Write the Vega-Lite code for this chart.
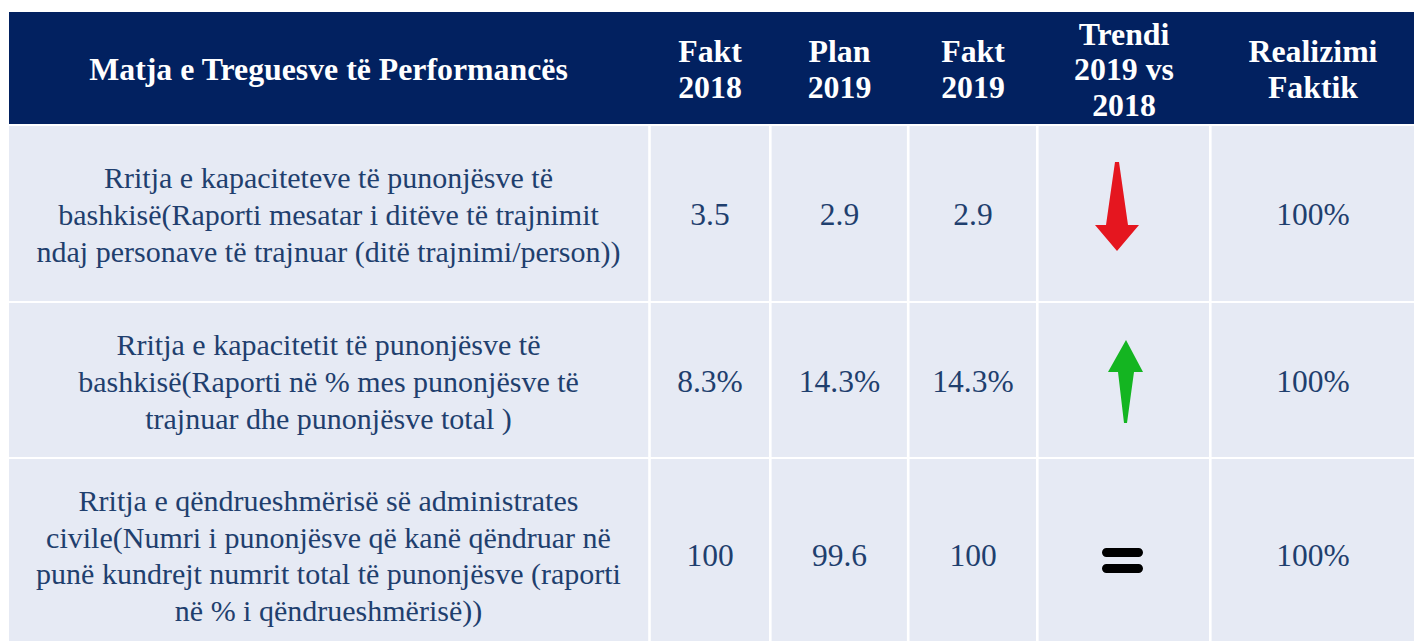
{
  "$schema": "https://vega.github.io/schema/vega-lite/v6.json",
  "width": 1405,
  "height": 629,
  "autosize": {"type": "none"},
  "padding": {"left": 9, "top": 12, "right": 0, "bottom": 0},
  "background": "white",
  "config": {"view": {"stroke": null, "fill": "#E6EAF4"}},
  "datasets": {
    "header": [
      {"col": 1, "label": "Matja e Treguesve të Performancës"},
      {"col": 2, "label": "Fakt\n2018"},
      {"col": 3, "label": "Plan\n2019"},
      {"col": 4, "label": "Fakt\n2019"},
      {"col": 5, "label": "Trendi\n2019 vs\n2018"},
      {"col": 6, "label": "Realizimi\nFaktik"}
    ],
    "cells": [
      {"row": 1, "col": 1, "text": "Rritja e kapaciteteve të punonjësve të\nbashkisë(Raporti mesatar i ditëve të trajnimit\nndaj personave të trajnuar (ditë trajnimi/person))"},
      {"row": 1, "col": 2, "text": "3.5"},
      {"row": 1, "col": 3, "text": "2.9"},
      {"row": 1, "col": 4, "text": "2.9"},
      {"row": 1, "col": 6, "text": "100%"},
      {"row": 2, "col": 1, "text": "Rritja e kapacitetit të punonjësve të\nbashkisë(Raporti në % mes punonjësve  të\ntrajnuar  dhe punonjësve total )"},
      {"row": 2, "col": 2, "text": "8.3%"},
      {"row": 2, "col": 3, "text": "14.3%"},
      {"row": 2, "col": 4, "text": "14.3%"},
      {"row": 2, "col": 6, "text": "100%"},
      {"row": 3, "col": 1, "text": "Rritja e qëndrueshmërisë së administrates\ncivile(Numri i punonjësve që kanë qëndruar në\npunë kundrejt numrit total të punonjësve (raporti\nnë % i qëndrueshmërisë))"},
      {"row": 3, "col": 2, "text": "100"},
      {"row": 3, "col": 3, "text": "99.6"},
      {"row": 3, "col": 4, "text": "100"},
      {"row": 3, "col": 6, "text": "100%"}
    ],
    "trends": [
      {"row": 1, "col": 5, "trend": "down"},
      {"row": 2, "col": 5, "trend": "up"},
      {"row": 3, "col": 5, "trend": "equal"}
    ]
  },
  "layer": [
    {
      "data": {"values": [{}]},
      "mark": {"type": "rule", "color": "white", "strokeWidth": 2.6},
      "encoding": {"x": {"datum": 1.5, "type": "quantitative", "axis": null, "scale": {"domain": [0.5,1,1.5,2,2.5,3,3.5,4,4.5,5,5.5,6,6.5], "range": [0,319.5,640.5,701,761.3,830.5,899.2,964,1028.3,1115,1201.3,1304,1405], "nice": false, "zero": false}}}
    },
    {
      "data": {"values": [{}]},
      "mark": {"type": "rule", "color": "white", "strokeWidth": 2.6},
      "encoding": {"x": {"datum": 2.5, "type": "quantitative", "axis": null, "scale": {"domain": [0.5,1,1.5,2,2.5,3,3.5,4,4.5,5,5.5,6,6.5], "range": [0,319.5,640.5,701,761.3,830.5,899.2,964,1028.3,1115,1201.3,1304,1405], "nice": false, "zero": false}}}
    },
    {
      "data": {"values": [{}]},
      "mark": {"type": "rule", "color": "white", "strokeWidth": 2.6},
      "encoding": {"x": {"datum": 3.5, "type": "quantitative", "axis": null, "scale": {"domain": [0.5,1,1.5,2,2.5,3,3.5,4,4.5,5,5.5,6,6.5], "range": [0,319.5,640.5,701,761.3,830.5,899.2,964,1028.3,1115,1201.3,1304,1405], "nice": false, "zero": false}}}
    },
    {
      "data": {"values": [{}]},
      "mark": {"type": "rule", "color": "white", "strokeWidth": 2.6},
      "encoding": {"x": {"datum": 4.5, "type": "quantitative", "axis": null, "scale": {"domain": [0.5,1,1.5,2,2.5,3,3.5,4,4.5,5,5.5,6,6.5], "range": [0,319.5,640.5,701,761.3,830.5,899.2,964,1028.3,1115,1201.3,1304,1405], "nice": false, "zero": false}}}
    },
    {
      "data": {"values": [{}]},
      "mark": {"type": "rule", "color": "white", "strokeWidth": 2.6},
      "encoding": {"x": {"datum": 5.5, "type": "quantitative", "axis": null, "scale": {"domain": [0.5,1,1.5,2,2.5,3,3.5,4,4.5,5,5.5,6,6.5], "range": [0,319.5,640.5,701,761.3,830.5,899.2,964,1028.3,1115,1201.3,1304,1405], "nice": false, "zero": false}}}
    },
    {
      "data": {"values": [{}]},
      "mark": {"type": "rect", "color": "#022160"},
      "encoding": {
        "x": {"datum": 0.5, "type": "quantitative", "axis": null, "scale": {"domain": [0.5,1,1.5,2,2.5,3,3.5,4,4.5,5,5.5,6,6.5], "range": [0,319.5,640.5,701,761.3,830.5,899.2,964,1028.3,1115,1201.3,1304,1405], "nice": false, "zero": false}},
        "x2": {"datum": 6.5},
        "y": {"datum": -0.5, "type": "quantitative", "axis": null, "scale": {"domain": [-0.5,0,0.5,1,1.5,2,2.5,3,3.5], "range": [0,58,113,204,290,371,446,545,629], "nice": false, "zero": false}},
        "y2": {"datum": 0.5}
      }
    },
    {
      "data": {"values": [{}]},
      "mark": {"type": "rule", "color": "white", "strokeWidth": 2.2},
      "encoding": {"y": {"datum": 0.5, "type": "quantitative", "axis": null, "scale": {"domain": [-0.5,0,0.5,1,1.5,2,2.5,3,3.5], "range": [0,58,113,204,290,371,446,545,629], "nice": false, "zero": false}}}
    },
    {
      "data": {"values": [{}]},
      "mark": {"type": "rule", "color": "white", "strokeWidth": 2.2},
      "encoding": {"y": {"datum": 1.5, "type": "quantitative", "axis": null, "scale": {"domain": [-0.5,0,0.5,1,1.5,2,2.5,3,3.5], "range": [0,58,113,204,290,371,446,545,629], "nice": false, "zero": false}}}
    },
    {
      "data": {"values": [{}]},
      "mark": {"type": "rule", "color": "white", "strokeWidth": 2.2},
      "encoding": {"y": {"datum": 2.5, "type": "quantitative", "axis": null, "scale": {"domain": [-0.5,0,0.5,1,1.5,2,2.5,3,3.5], "range": [0,58,113,204,290,371,446,545,629], "nice": false, "zero": false}}}
    },
    {
      "data": {"name": "header"},
      "mark": {"type": "text", "font": "Liberation Serif", "fontWeight": "bold", "fontSize": 31.8, "color": "white", "align": "center", "baseline": "middle", "lineBreak": "\n", "lineHeight": 35.5, "dy": {"expr": "-(length(split(datum.label, '\\n')) - 1) * 35.5 / 2"}},
      "encoding": {
        "x": {"field": "col", "type": "quantitative", "axis": null, "scale": {"domain": [0.5,1,1.5,2,2.5,3,3.5,4,4.5,5,5.5,6,6.5], "range": [0,319.5,640.5,701,761.3,830.5,899.2,964,1028.3,1115,1201.3,1304,1405], "nice": false, "zero": false}},
        "y": {"datum": 0, "type": "quantitative", "axis": null, "scale": {"domain": [-0.5,0,0.5,1,1.5,2,2.5,3,3.5], "range": [0,58,113,204,290,371,446,545,629], "nice": false, "zero": false}},
        "text": {"field": "label", "type": "nominal"}
      }
    },
    {
      "data": {"name": "cells"},
      "transform": [{"filter": "datum.col == 1"}],
      "mark": {"type": "text", "font": "Liberation Serif", "fontSize": 30, "color": "#1F3F6E", "align": "center", "baseline": "middle", "lineBreak": "\n", "lineHeight": 36.7, "dy": {"expr": "-(length(split(datum.text, '\\n')) - 1) * 36.7 / 2"}},
      "encoding": {
        "x": {"field": "col", "type": "quantitative", "axis": null, "scale": {"domain": [0.5,1,1.5,2,2.5,3,3.5,4,4.5,5,5.5,6,6.5], "range": [0,319.5,640.5,701,761.3,830.5,899.2,964,1028.3,1115,1201.3,1304,1405], "nice": false, "zero": false}},
        "y": {"field": "row", "type": "quantitative", "axis": null, "scale": {"domain": [-0.5,0,0.5,1,1.5,2,2.5,3,3.5], "range": [0,58,113,204,290,371,446,545,629], "nice": false, "zero": false}},
        "text": {"field": "text", "type": "nominal"}
      }
    },
    {
      "data": {"name": "cells"},
      "transform": [{"filter": "datum.col != 1"}],
      "mark": {"type": "text", "font": "Liberation Serif", "fontSize": 31.5, "color": "#1F3F6E", "align": "center", "baseline": "middle"},
      "encoding": {
        "x": {"field": "col", "type": "quantitative", "axis": null, "scale": {"domain": [0.5,1,1.5,2,2.5,3,3.5,4,4.5,5,5.5,6,6.5], "range": [0,319.5,640.5,701,761.3,830.5,899.2,964,1028.3,1115,1201.3,1304,1405], "nice": false, "zero": false}},
        "y": {"field": "row", "type": "quantitative", "axis": null, "scale": {"domain": [-0.5,0,0.5,1,1.5,2,2.5,3,3.5], "range": [0,58,113,204,290,371,446,545,629], "nice": false, "zero": false}},
        "text": {"field": "text", "type": "nominal"}
      }
    },
    {
      "data": {"name": "trends"},
      "mark": {"type": "point", "filled": true, "opacity": 1, "strokeWidth": 0, "size": 10000},
      "encoding": {
        "x": {"field": "col", "type": "quantitative", "axis": null, "scale": {"domain": [0.5,1,1.5,2,2.5,3,3.5,4,4.5,5,5.5,6,6.5], "range": [0,319.5,640.5,701,761.3,830.5,899.2,964,1028.3,1115,1201.3,1304,1405], "nice": false, "zero": false}},
        "y": {"field": "row", "type": "quantitative", "axis": null, "scale": {"domain": [-0.5,0,0.5,1,1.5,2,2.5,3,3.5], "range": [0,58,113,204,290,371,446,545,629], "nice": false, "zero": false}},
        "shape": {"field": "trend", "type": "nominal", "legend": null, "scale": {"domain": ["down", "up", "equal"], "range": ["M-0.18,-1.08 L-0.1,-1.08 L0.08,0.18 L0.3,0.18 L-0.14,0.7 L-0.58,0.18 L-0.36,0.18 Z", "M0.04,-0.86 L0.38,-0.22 L0.2,-0.22 L0.06,0.8 L0,0.8 L-0.12,-0.22 L-0.32,-0.22 Z", "M-0.35,-0.18 H0.29 A0.09,0.09 0 0 1 0.29,0 H-0.35 A0.09,0.09 0 0 1 -0.35,-0.18 Z M-0.35,0.14 H0.29 A0.09,0.09 0 0 1 0.29,0.32 H-0.35 A0.09,0.09 0 0 1 -0.35,0.14 Z"]}},
        "color": {"field": "trend", "type": "nominal", "legend": null, "scale": {"domain": ["down", "up", "equal"], "range": ["#E5161F", "#14B521", "#000000"]}}
      }
    }
  ]
}
